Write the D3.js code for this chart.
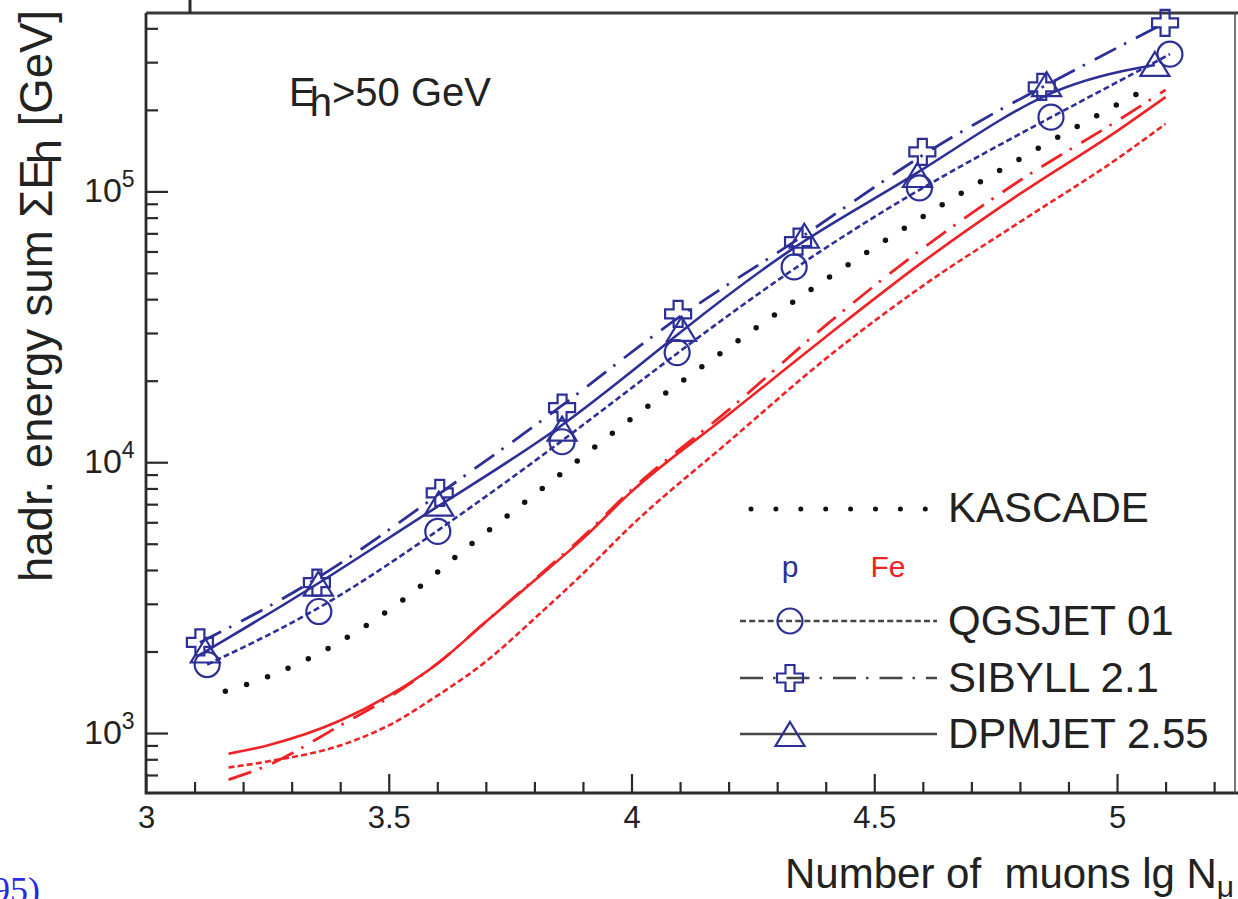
<!DOCTYPE html>
<html>
<head>
<meta charset="utf-8">
<script src="https://cdn.jsdelivr.net/npm/d3@7"></script>
<style>
  html, body { margin: 0; padding: 0; background: #fff; overflow: hidden; }
  svg { display: block; }
  text { font-family: "Liberation Sans", Arial, Helvetica, sans-serif; }
</style>
</head>
<body>
<svg id="chart" width="1238" height="899"></svg>
<script>
// ---------------- data ----------------
const xTickMajor = [3, 3.5, 4, 4.5, 5];
const xTickLabels = ["3", "3.5", "4", "4.5", "5"];
const yTickMajor = [1000, 10000, 100000];
const yTickExp = ["3", "4", "5"];

// proton primaries (blue), marker positions
const xQGSp = [3.126, 3.356, 3.601, 3.857, 4.094, 4.335, 4.593, 4.864, 5.109];
const yQGSp = [1790, 2810, 5550, 11900, 25400, 52600, 103000, 188000, 321000];
const xSIBp = [3.111, 3.352, 3.605, 3.857, 4.096, 4.343, 4.599, 4.845, 5.099];
const ySIBp = [2160, 3590, 7710, 15900, 35300, 65200, 140000, 243000, 419000];
const xDPMp = [3.122, 3.355, 3.603, 3.857, 4.103, 4.356, 4.589, 4.855, 5.078];
const yDPMp = [2000, 3530, 6970, 13200, 30800, 68000, 114000, 247000, 293000];

// KASCADE data (black dotted)
const xKAS = [3.128, 3.257, 3.393, 3.519, 3.674, 3.834, 3.991, 4.168, 4.333, 4.499, 4.670, 4.843, 5.064];
const yKAS = [1365, 1630, 2140, 3010, 5050, 8470, 14100, 24100, 39100, 61900, 96200, 146000, 241000];

// iron primaries (red)
const xFe = [3.17, 3.25, 3.4, 3.5, 3.6, 3.7, 3.8, 3.9, 4.0, 4.2, 4.4, 4.6, 4.8, 5.0, 5.1];
const yDPMFe = [839, 900, 1112, 1374, 1803, 2576, 3656, 5222, 7786, 15000, 29000, 54900, 97900, 167000, 223000];
const ySIBFe = [673, 759, 1067, 1352, 1803, 2576, 3690, 5310, 7910, 15600, 32000, 61600, 109700, 182000, 237000];
const yQGSFe = [746, 785, 900, 1067, 1374, 1836, 2646, 3880, 5840, 11900, 24100, 44800, 77100, 131800, 177500];

const legendNames = ["QGSJET 01", "SIBYLL 2.1", "DPMJET 2.55"];

// ---------------- layout ----------------
const BLUE = "#2c2f96";
const RED = "#ee2326";
const INK = "#222";
const svg = d3.select("#chart");

const x = d3.scaleLinear().domain([3, 5.243]).range([146, 1235]);
const y = d3.scaleLog().domain([600.6, 455700]).range([793, 13]);

// ---------------- axes ----------------
const xMinor = d3.range(31, 53).map(v => v / 10).filter(v => Math.abs(v * 2 - Math.round(v * 2)) > 1e-6);
const gxMinor = svg.append("g").attr("transform", "translate(0,793)")
  .call(d3.axisBottom(x).tickValues(xMinor).tickSize(-11).tickFormat(""));
const gx = svg.append("g").attr("transform", "translate(0,793)")
  .call(d3.axisBottom(x).tickValues(xTickMajor).tickSize(-19).tickPadding(0)
    .tickFormat((d, i) => xTickLabels[i]));
gx.selectAll("text").attr("y", 35).attr("dy", null).attr("font-size", 31).attr("fill", INK)
  .style("font-family", "Liberation Sans, Arial, sans-serif");

const yMinor = [];
[100, 1000, 10000, 100000].forEach(dec => { for (let k = 2; k <= 9; k++) { const v = dec * k; if (v > 600 && v < 455700) yMinor.push(v); } });
const gyMinor = svg.append("g").attr("transform", "translate(146,0)")
  .call(d3.axisLeft(y).tickValues(yMinor).tickSize(-12).tickFormat(""));
const gy = svg.append("g").attr("transform", "translate(146,0)")
  .call(d3.axisLeft(y).tickValues(yTickMajor).tickSize(-22).tickFormat(""));

gy.selectAll(".tick").each(function (d, i) {
  const t = d3.select(this).append("text").attr("fill", INK).attr("text-anchor", "start")
    .attr("x", -62).attr("y", 10).attr("font-size", 34);
  t.append("tspan").text("10");
  t.append("tspan").attr("dy", -15).attr("font-size", 23).text(yTickExp[i]);
});

[gx, gxMinor, gy, gyMinor].forEach(g => {
  g.select(".domain").remove();
  g.selectAll("line").attr("stroke", "#2a2a2a").attr("stroke-width", 2.2);
});

// frame
svg.append("path").attr("d", `M146,13 L146,793 L1238,793`).attr("fill", "none")
  .attr("stroke", "#2a2a2a").attr("stroke-width", 2.8);
svg.append("path").attr("d", `M146,13 L1238,13`).attr("fill", "none")
  .attr("stroke", "#3a3a3a").attr("stroke-width", 2.8);
svg.append("path").attr("d", `M1235,13 L1235,793`).attr("fill", "none")
  .attr("stroke", "#555").attr("stroke-width", 1.6);
// fragment of the figure above
svg.append("path").attr("d", "M190,0 L190,13").attr("stroke", "#2a2a2a").attr("stroke-width", 3);

// ---------------- curves ----------------
const line = d3.line().x(d => x(d[0])).y(d => y(d[1])).curve(d3.curveMonotoneX);
const smoothLine = d3.line().x(d => x(d[0])).y(d => y(d[1])).curve(d3.curveBasis);
const zipXY = (xs, ys) => xs.map((v, i) => [v, ys[i]]);

const styles = {
  qgs: { dash: "6,3.2", cap: "butt" },
  sib: { dash: "24,9,2.5,11", cap: "butt" },
  dpm: { dash: null, cap: "butt" }
};

function drawCurve(data, color, st, w, gen) {
  const p = svg.append("path").datum(data).attr("d", gen || line).attr("fill", "none")
    .attr("stroke", color).attr("stroke-width", w).attr("stroke-linecap", st.cap);
  if (st.dash) p.attr("stroke-dasharray", st.dash);
  return p;
}

// iron
drawCurve(zipXY(xFe, yQGSFe), RED, styles.qgs, 2.6);
drawCurve(zipXY(xFe, ySIBFe), RED, styles.sib, 2.8);
drawCurve(zipXY(xFe, yDPMFe), RED, styles.dpm, 2.6);

// KASCADE
svg.append("path").datum(zipXY(xKAS, yKAS)).attr("d", line).attr("fill", "none")
  .attr("stroke", "#111").attr("stroke-width", 5.5).attr("stroke-linecap", "round")
  .attr("stroke-dasharray", "0,22.3").attr("stroke-dashoffset", -18);

// proton
drawCurve(zipXY(xQGSp, yQGSp), BLUE, styles.qgs, 2.6, smoothLine);
drawCurve(zipXY(xSIBp, ySIBp), BLUE, styles.sib, 2.8, smoothLine);
drawCurve(zipXY(xDPMp, yDPMp), BLUE, styles.dpm, 2.6, smoothLine);

// markers
const plusPath = (a, L) => `M${-a},${-L}L${a},${-L}L${a},${-a}L${L},${-a}L${L},${a}L${a},${a}L${a},${L}L${-a},${L}L${-a},${a}L${-L},${a}L${-L},${-a}L${-a},${-a}Z`;
const triPath = "M0,-13L14.5,11L-14.5,11Z";

function markCircle(g, cx, cy) {
  g.append("circle").attr("cx", cx).attr("cy", cy).attr("r", 12.5)
    .attr("fill", "none").attr("stroke", BLUE).attr("stroke-width", 2.2);
}
function markPlus(g, cx, cy) {
  g.append("path").attr("d", plusPath(4.5, 13)).attr("transform", `translate(${cx},${cy})`)
    .attr("fill", "none").attr("stroke", BLUE).attr("stroke-width", 2.2);
}
function markTri(g, cx, cy) {
  g.append("path").attr("d", triPath).attr("transform", `translate(${cx},${cy})`)
    .attr("fill", "none").attr("stroke", BLUE).attr("stroke-width", 2.2);
}
const gm = svg.append("g");
xQGSp.forEach((v, i) => markCircle(gm, x(v), y(yQGSp[i])));
xSIBp.forEach((v, i) => markPlus(gm, x(v), y(ySIBp[i])));
xDPMp.forEach((v, i) => markTri(gm, x(v), y(yDPMp[i])));

// ---------------- texts ----------------
// y axis title
const yt = svg.append("text").attr("transform", "translate(52,582) rotate(-90)")
  .attr("font-size", 45.5).attr("fill", INK);
yt.append("tspan").text("hadr. energy sum ΣE");
yt.append("tspan").attr("dx", -5).attr("dy", 9).text("h");
yt.append("tspan").attr("dy", -9).text(" [GeV]");

// x axis title
svg.append("text").attr("x", 785).attr("y", 888).attr("font-size", 42).attr("fill", INK)
  .style("white-space", "pre").attr("xml:space", "preserve")
  .text("Number of  muons lg N")
  .append("tspan").attr("dy", 9).attr("font-size", 30).text("μ");

// Eh > 50 GeV
const et = svg.append("text").attr("x", 289).attr("y", 106).attr("font-size", 40).attr("fill", INK);
et.append("tspan").text("E");
et.append("tspan").attr("dx", -6).attr("dy", 10).text("h");
et.append("tspan").attr("dy", -10).text(">50 GeV");

// cut citation fragment at lower left
svg.append("text").attr("x", -8).attr("y", 902).attr("font-size", 36).attr("fill", "#2a2ae0")
  .style("font-family", "Liberation Serif, Times New Roman, serif").text("95)");

// ---------------- legend ----------------
const LG = "#454545";
// KASCADE
svg.append("line").attr("x1", 751).attr("x2", 926).attr("y1", 509).attr("y2", 509)
  .attr("stroke", "#111").attr("stroke-width", 5).attr("stroke-linecap", "round")
  .attr("stroke-dasharray", "0,24.9");
svg.append("text").attr("x", 948).attr("y", 522).attr("font-size", 42).attr("fill", INK).text("KASCADE");

svg.append("text").attr("x", 790).attr("y", 577).attr("text-anchor", "middle")
  .attr("font-size", 30).attr("fill", BLUE).text("p");
svg.append("text").attr("x", 888).attr("y", 577).attr("text-anchor", "middle")
  .attr("font-size", 30).attr("fill", RED).text("Fe");

const legY = [621, 678, 734];
const legStyles = [styles.qgs, { dash: "23,10,2.5,11", cap: "butt" }, styles.dpm];
const legMark = [markCircle, markPlus, markTri];
legendNames.forEach((name, i) => {
  const l = svg.append("line").attr("x1", 740).attr("x2", 937).attr("y1", legY[i]).attr("y2", legY[i])
    .attr("stroke", LG).attr("stroke-width", 2.4);
  if (legStyles[i].dash) l.attr("stroke-dasharray", legStyles[i].dash);
  legMark[i](svg, 790, legY[i] + (i === 2 ? 1 : 0));
  svg.append("text").attr("x", 948).attr("y", legY[i] + 14).attr("font-size", 42).attr("fill", INK).text(name);
});
</script>
</body>
</html>
